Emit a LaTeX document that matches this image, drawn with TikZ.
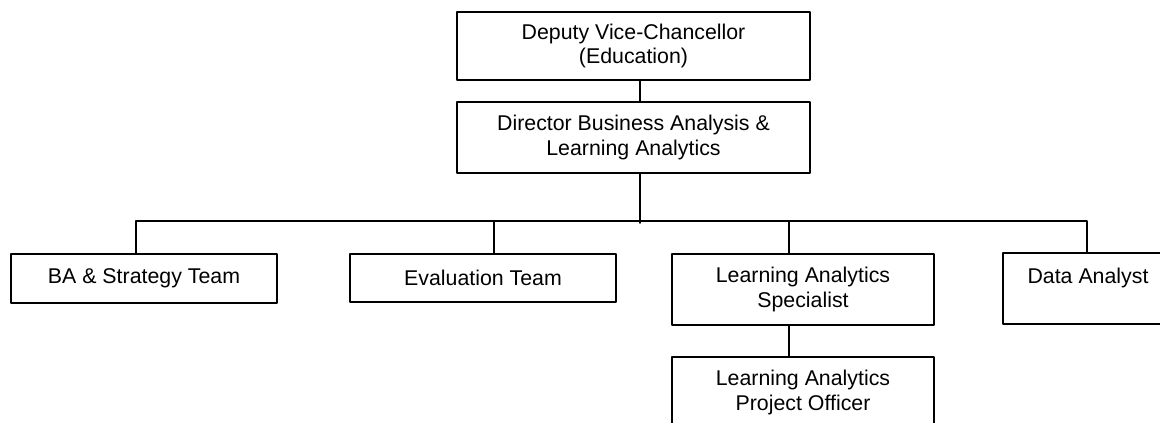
\documentclass[tikz,border=0pt]{standalone}
\usepackage{fontspec}
\setmainfont{Liberation Sans}
\usepackage{tikz}
\usetikzlibrary{calc}
\newcommand{\orgfont}{\fontsize{16}{18.5}\selectfont}

\begin{document}
\begin{tikzpicture}[line cap=round,line join=round,x=0.75pt,y=-0.75pt,
    orgbox/.style={draw,line width=1.4pt,inner sep=0pt,align=center,font=\orgfont},
    orgline/.style={line width=1.4pt}]
\useasboundingbox (0,0) rectangle (1160,423);
\clip (0,0) rectangle (1160,423);

% Leitung oben
\node[orgbox,minimum width=264.75pt,minimum height=51pt] (dvc) at (633.5,46) {Deputy Vice-Chancellor\\(Education)};
\node[orgbox,minimum width=264.75pt,minimum height=53.25pt] (dir) at (633.5,137.5) {Director Business Analysis \&\\Learning Analytics};

% Teams und Stellen
\node[orgbox,minimum width=199.5pt,minimum height=36.75pt] (ba) at (144,278.5) {BA \& Strategy Team};
\node[orgbox,minimum width=199.5pt,minimum height=36pt] (eval) at (483,278) {Evaluation Team};
\node[orgbox,minimum width=196.5pt,minimum height=53.25pt] (las) at (803,289.5) {Learning Analytics\\Specialist};
\node[orgbox,minimum width=127.5pt,minimum height=53.25pt] (da) at (1088,288.5) {Data Analyst\\\mbox{}};
\node[orgbox,minimum width=196.5pt,minimum height=53.25pt] (lapo) at (803,392.5) {Learning Analytics\\Project Officer};

% Verbindungen
\coordinate (trunk) at (640,221);
\coordinate (j1) at (136,221);
\coordinate (j2) at (494,221);
\coordinate (j3) at (789,221);
\coordinate (j4) at (1087,221);
\draw[orgline] (dvc.south -| trunk) -- (dir.north -| trunk);
\draw[orgline] (dir.south -| trunk) -- ($(trunk)+(0,2)$);
\draw[orgline] (j1 |- ba.north) -- (j1) -- (j4) -- (j4 |- da.north);
\draw[orgline] (j2) -- (j2 |- eval.north);
\draw[orgline] (j3) -- (j3 |- las.north);
\draw[orgline] (j3 |- las.south) -- (j3 |- lapo.north);
\end{tikzpicture}
\end{document}
